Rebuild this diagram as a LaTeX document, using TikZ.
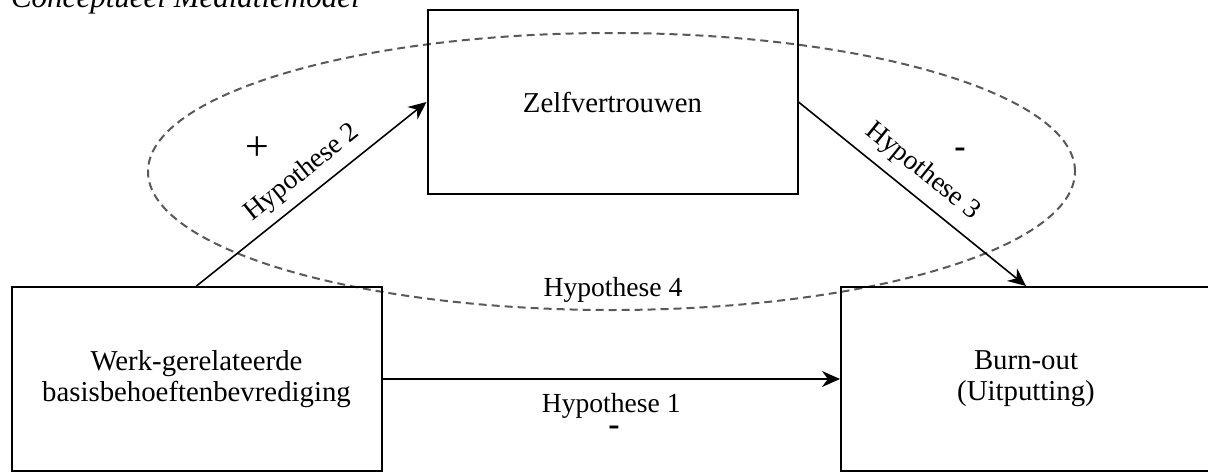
\documentclass[tikz,border=0pt]{standalone}
\usepackage{fontspec}
\setmainfont{Liberation Serif}
\usetikzlibrary{arrows.meta}

\begin{document}
    \begin{tikzpicture}[x=0.5pt, y=-0.5pt, >={Stealth[length=9pt, width=8pt]},
        every node/.style={font=\fontsize{14.4}{15.5}\selectfont},
        concept/.style={draw, line width=1pt, minimum width=185pt, minimum height=92pt, align=center},
        link/.style={->, line width=0.8pt},
        hyp/.style={font=\fontsize{13.8}{15}\selectfont},
        sign/.style={font=\fontsize{17}{17}\selectfont\bfseries, inner sep=0pt}]
        \clip (0, 0) rectangle (1208, 471);
        \node[anchor=base west, font=\fontsize{15.5}{17}\selectfont\itshape] (title) at (4, 7) {Conceptueel Mediatiemodel};
        \draw[dash pattern=on 4pt off 2.5pt, line width=1pt, black!65] (611.5, 171.5) ellipse [x radius=231.75pt, y radius=69.25pt];
        \node[concept] (zelf) at (612.5, 102) {Zelfvertrouwen};
        \node[concept] (werk) at (196.5, 379) {Werk-gerelateerde\\basisbehoeftenbevrediging};
        \node[concept] (burnout) at (1026, 379) {Burn-out\\(Uitputting)};
        \draw[link] (werk.east) -- (burnout.west) node[hyp, midway, below=3.5pt] (hyp1) {Hypothese 1};
        \draw[link] (werk.north) -- (zelf.west) node[hyp, pos=0.52, sloped, above=1pt] (hyp2) {Hypothese 2};
        \draw[link] (zelf.east) -- (burnout.north) node[hyp, pos=0.48, sloped, above=2pt] (hyp3) {Hypothese 3};
        \node[hyp] (hyp4) at (613, 290) {Hypothese 4};
        \node[sign, font=\fontsize{21}{21}\selectfont] (plus) at (257, 149) {+};
        \node[sign] (minus3) at (960, 153) {-};
        \node[sign] (minus1) at (614, 431) {-};
    \end{tikzpicture}
\end{document}
